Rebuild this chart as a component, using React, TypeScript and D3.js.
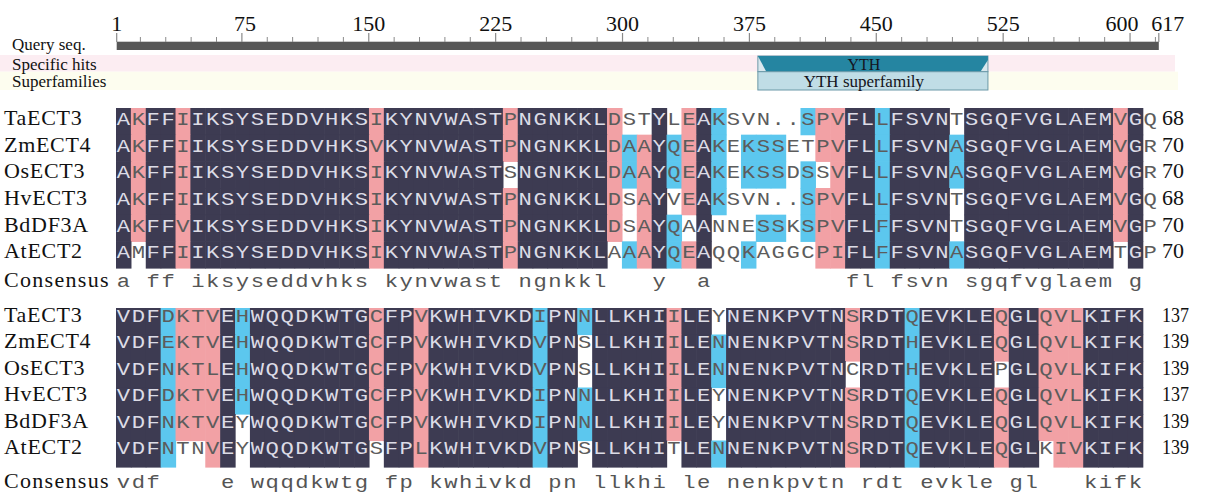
import * as d3 from "d3";

// sequence names (same order in both blocks)
const rowNames = ["TaECT3", "ZmECT4", "OsECT3", "HvECT3", "BdDF3A", "AtECT2"];

// block 1: residues 1-70 of the alignment
const seqs1 = [
  "AKFFIIKSYSEDDVHKSIKYNVWASTPNGNKKLDSTYLEAKSVN..SPVFLLFSVNTSGQFVGLAEMVGQ",
  "AKFFIIKSYSEDDVHKSVKYNVWASTPNGNKKLDAAYQEAKEKSSETPVFLLFSVNASGQFVGLAEMVGR",
  "AKFFIIKSYSEDDVHKSIKYNVWASTSNGNKKLDAAYQEAKEKSSDSSVFLLFSVNASGQFVGLAEMVGR",
  "AKFFIIKSYSEDDVHKSIKYNVWASTPNGNKKLDSAYVEAKSVN..SPVFLLFSVNTSGQFVGLAEMVGQ",
  "AKFFVIKSYSEDDVHKSIKYNVWASTPNGNKKLDSAYQAANNESSKSPVFLFFSVNTSGQFVGLAEMVGP",
  "AMFFIIKSYSEDDVHKSIKYNVWASTPNGNKKLAAAYQEAQQKAGGCPIFLFFSVNASGQFVGLAEMTGP",
];
// D = identical (dark), P = high (pink), C = medium (cyan), W = none
const shade1 = [
  "DPDDPDDDDD DDDDDDDPDD DDDDDDPDDD DDDPWWDWPD CWWWWWCPPD DCDDDDWDDD DDDDDDDPDW",
  "DPDDPDDDDD DDDDDDDPDD DDDDDDPDDD DDDPCPDCPD CWCCCWWPPD DCDDDDCDDD DDDDDDDPDW",
  "DPDDPDDDDD DDDDDDDPDD DDDDDDWDDD DDDPCPDCPD CWCCCWCWPD DCDDDDCDDD DDDDDDDPDW",
  "DPDDPDDDDD DDDDDDDPDD DDDDDDPDDD DDDPWPDWPD CWWWWWCPPD DCDDDDWDDD DDDDDDDPDW",
  "DPDDPDDDDD DDDDDDDPDD DDDDDDPDDD DDDPWPDCWD WWWCCWCPPD DCDDDDWDDD DDDDDDDPDW",
  "DWDDPDDDDD DDDDDDDPDD DDDDDDPDDD DDDWCPDCPD WWCWWWWPPD DCDDDDCDDD DDDDDDDWDW",
];
const ends1 = [68, 70, 70, 68, 70, 70];
const consensus1 = "a ff iksyseddvhks kynvwast ngnkkl   y  a         fl fsvn sgqfvglaem g ";

// block 2: residues 71-139
const seqs2 = [
  "VDFDKTVEHWQQDKWTGCFPVKWHIVKDIPNNLLKHIILEYNENKPVTNSRDTQEVKLEQGLQVLKIFK",
  "VDFEKTVEHWQQDKWTGCFPVKWHIVKDVPNSLLKHIILENNENKPVTNSRDTHEVKLEQGLQVLKIFK",
  "VDFNKTLEHWQQDKWTGCFPVKWHIVKDVPNSLLKHIILENNENKPVTNCRDTHEVKLEPGLQVLKIFK",
  "VDFDKTVEHWQQDKWTGCFPVKWHIVKDIPNNLLKHIILEYNENKPVTNSRDTQEVKLEQGLQVLKIFK",
  "VDFNKTVEYWQQDKWTGCFPVKWHIVKDIPNNLLKHIILEYNENKPVTNSRDTQEVKLEQGLQVLKIFK",
  "VDFNTNVEYWQQDKWTGSFPLKWHIVKDVPNSLLKHITLENNENKPVTNSRDTQEVKLEQGLKIVKIFK",
];
const shade2 = [
  "DDDCPPPDCD DDDDDDDPDD PDDDDDDDCD DCDDDDDPDD WDDDDDDDDP DDDCDDDDDP DDPPPDDDD",
  "DDDCPPPDCD DDDDDDDPDD PDDDDDDDCD DWDDDDDPDD CDDDDDDDDP DDDCDDDDDP DDPPPDDDD",
  "DDDCPPPDCD DDDDDDDPDD PDDDDDDDCD DWDDDDDPDD CDDDDDDDDW DDDCDDDDDW DDPPPDDDD",
  "DDDCPPPDCD DDDDDDDPDD PDDDDDDDCD DCDDDDDPDD WDDDDDDDDP DDDCDDDDDP DDPPPDDDD",
  "DDDCPPPDWD DDDDDDDPDD PDDDDDDDCD DCDDDDDPDD WDDDDDDDDP DDDCDDDDDP DDPPPDDDD",
  "DDDCWWPDWD DDDDDDDWDD PDDDDDDDCD DWDDDDDWDD CDDDDDDDDP DDDCDDDDDP DDWPPDDDD",
];
const ends2 = [137, 139, 139, 137, 139, 139];
const consensus2 = "vdf    e wqqdkwtg fp kwhivkd pn llkhi le nenkpvtn rdt evkle gl   kifk";

// domain graphic
const queryLength = 617;
const majorTicks = [1, 75, 150, 225, 300, 375, 450, 525, 600, 617];
const trackNames = ["Query seq.", "Specific hits", "Superfamilies"];
const specificHits = [{ label: "YTH", from: 380, to: 516 }];
const superfamilies = [{ label: "YTH superfamily", from: 380, to: 516 }];

const colors: Record<string, string | null> = {
  D: "#3d3b52",
  P: "#f2a1a5",
  C: "#5cc7ee",
  W: null,
};

const serif = "'Liberation Serif', 'Times New Roman', serif";
const mono = "'Liberation Mono', 'Courier New', monospace";

const colX = d3
  .scaleBand<number>()
  .domain(d3.range(70))
  .range([116, 116 + 70 * 14.88]);

function Block({ seqs, shade, ends, consensus, top, bottom, baseOff, consY, narrowNums }) {
  const rowY = d3.scaleBand<number>().domain(d3.range(seqs.length)).range([top, bottom]);
  const bw = colX.bandwidth();
  const bh = rowY.bandwidth();
  return (
    <g>
      {shade.map((s, r) => {
        const cells = s.replace(/ /g, "").split("");
        return cells.map((c, i) =>
          colors[c] ? (
            <rect
              key={`r${r}-${i}`}
              x={colX(i)}
              y={rowY(r)}
              width={bw + 0.6}
              height={bh + 0.6}
              fill={colors[c] as string}
            />
          ) : null
        );
      })}
      {seqs.map((s, r) => {
        const cells = shade[r].replace(/ /g, "");
        return s.split("").map((ch, i) => (
          <text
            key={`t${r}-${i}`}
            transform={`translate(${colX(i)! + bw / 2},${rowY(r)! + baseOff}) scale(1.2,1)`}
            textAnchor="middle"
            fontFamily={mono}
            fontSize={18.5}
            fill={cells[i] === "D" ? "#dcdce6" : "#5c5c5c"}
          >
            {ch}
          </text>
        ));
      })}
      {rowNames.map((n, r) => (
        <text
          key={n}
          x={4}
          y={rowY(r)! + baseOff}
          fontFamily={serif}
          fontSize={22}
          letterSpacing={0.7}
          fill="#111"
        >
          {n}
        </text>
      ))}
      {ends.map((e, r) => (
        <text
          key={`e${r}`}
          x={1162}
          y={rowY(r)! + baseOff}
          fontFamily={serif}
          fontSize={narrowNums ? 20 : 22}
          textLength={narrowNums ? 27 : undefined}
          lengthAdjust="spacingAndGlyphs"
          fill="#111"
        >
          {e}
        </text>
      ))}
      <text x={4} y={consY} fontFamily={serif} fontSize={22} letterSpacing={1.3} fill="#111">
        Consensus
      </text>
      {consensus.split("").map((ch, i) =>
        ch === " " ? null : (
          <text
            key={`c${i}`}
            transform={`translate(${colX(i)! + bw / 2},${consY}) scale(1.2,1)`}
            textAnchor="middle"
            fontFamily={mono}
            fontSize={18.5}
            fill="#555"
          >
            {ch}
          </text>
        )
      )}
    </g>
  );
}

function DomainGraphic() {
  const x = d3.scaleLinear().domain([1, queryLength]).range([116.7, 1158.8]);
  const minor = d3.range(15, 616, 15).filter((d) => d % 75 !== 0);
  const labelShift: Record<number, number> = { 75: 3, 600: -8, 617: 9 };
  const trackY = [50, 70, 87];
  return (
    <g>
      <rect x={0} y={55} width={1175} height={16.7} fill="#fcedf2" />
      <rect x={0} y={71.7} width={1178} height={18.3} fill="#fdfdef" />
      {trackNames.map((t, i) => (
        <text key={t} x={12} y={trackY[i]} fontFamily={serif} fontSize={17} fill="#111">
          {t}
        </text>
      ))}
      <rect x={x(1)} y={41.7} width={x(queryLength) - x(1)} height={8.3} fill="#575757" />
      {minor.map((d) => (
        <line key={d} x1={x(d)} x2={x(d)} y1={37} y2={42} stroke="#8a8a8a" strokeWidth={1} />
      ))}
      {majorTicks.map((d) => (
        <g key={d}>
          <line x1={x(d)} x2={x(d)} y1={33} y2={42} stroke="#8a8a8a" strokeWidth={1.2} />
          <text
            x={x(d) + (labelShift[d] || 0)}
            y={31}
            textAnchor="middle"
            fontFamily={serif}
            fontSize={22}
            fill="#111"
          >
            {d}
          </text>
        </g>
      ))}
      {specificHits.map((h) => {
        const x0 = x(h.from);
        const x1 = x(h.to);
        const pts = [
          [x0, 56],
          [x1, 56],
          [x1, 60],
          [x1 - 7.5, 71.7],
          [x0 + 8.5, 71.7],
        ];
        return (
          <g key={h.label}>
            <rect x={x0} y={56} width={x1 - x0} height={15.7} fill="#d9e8ee" stroke="#6d9aa9" strokeWidth={1} />
            <polygon points={pts.map((p) => p.join(",")).join(" ")} fill="#2585a1" />
            <text x={(x0 + x1) / 2 - 9} y={70} textAnchor="middle" fontFamily={serif} fontSize={16} fill="#141420">
              {h.label}
            </text>
          </g>
        );
      })}
      {superfamilies.map((h) => {
        const x0 = x(h.from);
        const x1 = x(h.to);
        return (
          <g key={h.label}>
            <rect x={x0} y={71.7} width={x1 - x0} height={18.3} fill="#c0dde6" stroke="#6a98a7" strokeWidth={1} />
            <text x={(x0 + x1) / 2 - 9} y={86.5} textAnchor="middle" fontFamily={serif} fontSize={17} fill="#141420">
              {h.label}
            </text>
          </g>
        );
      })}
    </g>
  );
}

export default function App() {
  return (
    <div style={{ position: "absolute", left: 0, top: 0 }}>
      <svg width={1206} height={497} style={{ display: "block", background: "#fff" }}>
        <DomainGraphic />
        <Block
          seqs={seqs1}
          shade={shade1}
          ends={ends1}
          consensus={consensus1}
          top={108}
          bottom={268}
          baseOff={17}
          consY={287}
          narrowNums={false}
        />
        <Block
          seqs={seqs2}
          shade={shade2}
          ends={ends2}
          consensus={consensus2}
          top={308}
          bottom={467}
          baseOff={13.6}
          consY={488}
          narrowNums={true}
        />
      </svg>
    </div>
  );
}
